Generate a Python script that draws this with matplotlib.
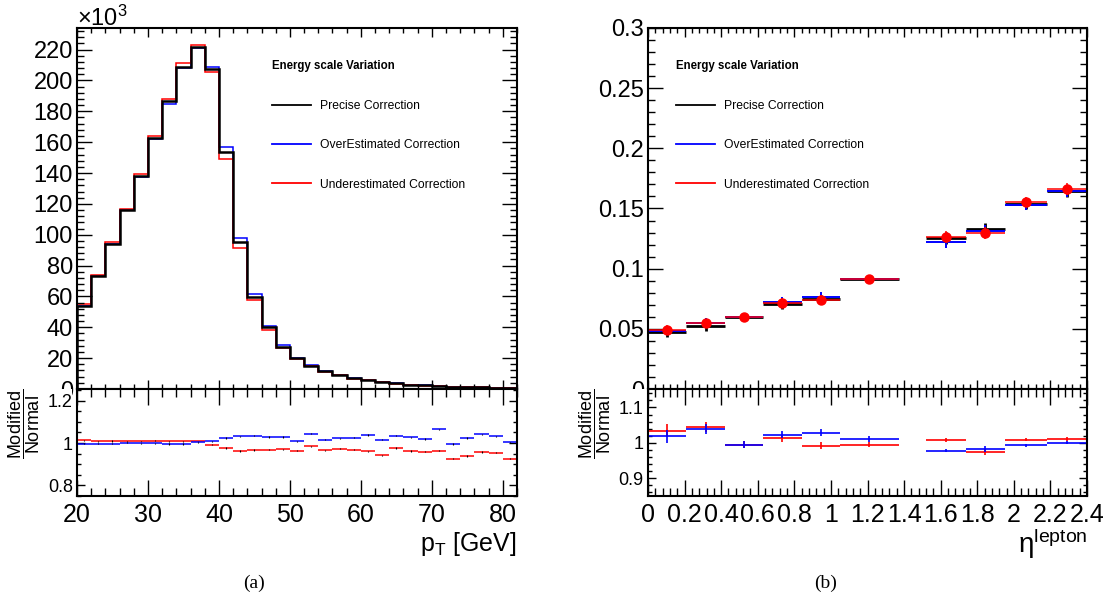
import numpy as np
import matplotlib
matplotlib.use("Agg")
import matplotlib.pyplot as plt
from matplotlib.lines import Line2D
from matplotlib.patches import Rectangle
from matplotlib.ticker import MultipleLocator, FormatStrFormatter

plt.rcParams["font.family"] = ["Liberation Sans", "DejaVu Sans"]
plt.rcParams["mathtext.fontset"] = "custom"
plt.rcParams["mathtext.rm"] = "Liberation Sans"
plt.rcParams["mathtext.it"] = "Liberation Sans:italic"
plt.rcParams["mathtext.bf"] = "Liberation Sans:bold"

# ---------------- (a) lepton pT, 2 GeV bins, counts in 10^3 ----------------
pt_edges = np.arange(20, 84, 2)
pt_precise = [54, 73, 94, 116, 138.2, 162.8, 186.4, 209, 221.5, 207.5, 153.4,
              95.3, 59.5, 39.9, 27.0, 20.0, 15.0, 11.7, 9.1, 7.0, 5.9, 4.6,
              3.6, 2.8, 2.3, 1.9, 1.6, 1.3, 1.1, 0.9, 0.8]
pt_over = [54, 73, 94, 116, 137.5, 162, 185, 208, 221, 208.5, 157,
           97.9, 61.4, 40.6, 28.8, 20.3, 15.6, 11.9, 9.3, 7.2, 6.1, 4.7,
           3.7, 2.9, 2.35, 2.0, 1.6, 1.35, 1.15, 0.95, 0.8]
pt_under = [55.1, 74, 95, 117, 139.5, 164, 188, 211, 223, 205.3, 149.3,
            91.4, 58, 38.2, 26.4, 19.3, 14.7, 11.3, 8.9, 6.8, 5.7, 4.3,
            3.5, 2.7, 2.2, 1.8, 1.45, 1.25, 1.05, 0.85, 0.74]
pt_ratio_over = [0.997, 0.997, 0.997, 1.002, 0.998, 0.998, 0.995, 0.995, 1.003,
                 1.008, 1.024, 1.031, 1.035, 1.028, 1.028, 1.008, 1.044, 1.016,
                 1.022, 1.025, 1.038, 1.016, 1.035, 1.027, 1.019, 1.064, 0.995,
                 1.024, 1.041, 1.031, 1.003]
pt_ratio_under = [1.013, 1.008, 1.009, 1.008, 1.008, 1.011, 1.008, 1.008, 1.008,
                  0.992, 0.977, 0.962, 0.967, 0.969, 0.970, 0.964, 0.984, 0.965,
                  0.973, 0.969, 0.961, 0.942, 0.977, 0.962, 0.959, 0.964, 0.926,
                  0.939, 0.958, 0.954, 0.926]

# ---------------- (b) lepton eta (crack 1.37-1.52 excluded) ----------------
eta_lo = [0.0, 0.21, 0.42, 0.63, 0.84, 1.05, 1.52, 1.74, 1.95, 2.18]
eta_hi = [0.21, 0.42, 0.63, 0.84, 1.05, 1.37, 1.74, 1.95, 2.18, 2.4]
eta_precise = [0.0472, 0.0522, 0.0597, 0.0708, 0.0744, 0.0915, 0.1253, 0.1333, 0.1539, 0.1647]
eta_over = [0.0486, 0.0548, 0.0597, 0.0722, 0.0765, 0.0918, 0.1225, 0.1314, 0.1525, 0.1647]
eta_under = [0.0488, 0.0545, 0.0597, 0.0717, 0.0739, 0.0913, 0.1263, 0.1300, 0.1553, 0.1665]
eta_err = [0.004, 0.004, 0.003, 0.004, 0.004, 0.003, 0.005, 0.005, 0.004, 0.005]
eta_ratio_over = [1.019, 1.039, 0.995, 1.023, 1.028, 1.011, 0.978, 0.983, 0.993, 1.001]
eta_ratio_under = [1.034, 1.044, 0.995, 1.013, 0.992, 0.995, 1.008, 0.975, 1.009, 1.011]
eta_ratio_err = [0.018, 0.014, 0.010, 0.010, 0.010, 0.008, 0.005, 0.008, 0.005, 0.005]

legend_title = "Energy scale Variation"
legend_labels = ["Precise Correction", "OverEstimated Correction", "Underestimated Correction"]
COLORS = ["black", "#0000ff", "#ff0000"]

W, H = 1110, 597
fig = plt.figure(figsize=(W / 100, H / 100), dpi=100)


def px_axes(x0, x1, y0, y1):
    return fig.add_axes([x0 / W, 1 - y1 / H, (x1 - x0) / W, (y1 - y0) / H])


def style(ax, xmaj, xmin, ymaj, ymin, xlen, ylen, ysize, xsize=18):
    ax.xaxis.set_major_locator(MultipleLocator(xmaj))
    ax.xaxis.set_minor_locator(MultipleLocator(xmin))
    ax.yaxis.set_major_locator(MultipleLocator(ymaj))
    ax.yaxis.set_minor_locator(MultipleLocator(ymin))
    ax.tick_params(axis="both", which="both", direction="in", top=True, right=True, width=1.0)
    ax.tick_params(axis="x", which="major", length=xlen, labelsize=xsize, pad=5)
    ax.tick_params(axis="x", which="minor", length=xlen * 0.5)
    ax.tick_params(axis="y", which="major", length=ylen, labelsize=ysize, pad=3)
    ax.tick_params(axis="y", which="minor", length=ylen * 0.5)
    for s in ax.spines.values():
        s.set_linewidth(1.5)


handles = [Line2D([], [], color=c, lw=1.3) for c in COLORS]


def add_legend(ax, x):
    leg = ax.legend(handles, legend_labels, title=legend_title, loc="upper left",
                    bbox_to_anchor=(x, 0.91), frameon=False, fontsize=8.7,
                    title_fontproperties={"weight": "bold", "size": 8.3},
                    alignment="left", handlelength=3.2, handletextpad=0.75,
                    labelspacing=2.25, borderpad=0, borderaxespad=0)
    leg._legend_box.sep = 20
    return leg


# ================= panel (a) =================
ax1 = px_axes(77, 517, 28, 389)
ax1r = px_axes(77, 517, 389, 496)
ax1r.set_zorder(2)

ax1.stairs(pt_over, pt_edges, color=COLORS[1], lw=1.1)
ax1.stairs(pt_under, pt_edges, color=COLORS[2], lw=1.1)
ax1.stairs(pt_precise, pt_edges, color=COLORS[0], lw=1.8)
ax1.set_xlim(20, 82)
ax1.set_ylim(0, 234)
style(ax1, 10, 2, 20, 4, 6.5, 10.5, 17)
ax1.tick_params(axis="x", labelbottom=False)
add_legend(ax1, 0.443)

pt_c = (pt_edges[:-1] + pt_edges[1:]) / 2
for vals, c in [(pt_ratio_under, COLORS[2]), (pt_ratio_over, COLORS[1])]:
    ax1r.errorbar(pt_c, vals, xerr=1.0, fmt="none", ecolor=c, elinewidth=1.1)
    ax1r.errorbar(pt_c, vals, yerr=0.003, fmt="none", ecolor="black", elinewidth=0.8)
ax1r.set_xlim(20, 82)
ax1r.set_ylim(0.75, 1.255)
style(ax1r, 10, 2, 0.2, 0.05, 11.5, 6, 13)
ax1r.yaxis.set_major_formatter(FormatStrFormatter("%g"))
ax1r.set_xlabel(r"p$_{\mathrm{T}}$ [GeV]", fontsize=18, loc="right", labelpad=2)
ax1r.set_ylabel(r"$\dfrac{\mathrm{Modified}}{\mathrm{Normal}}$", fontsize=13, loc="top", labelpad=4)

# ================= panel (b) =================
ax2 = px_axes(648, 1087, 28, 389)
ax2r = px_axes(648, 1087, 389, 496)
ax2r.set_zorder(2)

eta_c = [(a + b) / 2 for a, b in zip(eta_lo, eta_hi)]
eta_hw = [(b - a) / 2 for a, b in zip(eta_lo, eta_hi)]
ax2.errorbar(eta_c, eta_precise, xerr=eta_hw, yerr=eta_err, fmt="none", ecolor=COLORS[0], elinewidth=2.0)
ax2.errorbar(eta_c, eta_over, xerr=eta_hw, yerr=eta_err, fmt="none", ecolor=COLORS[1], elinewidth=1.4)
ax2.errorbar(eta_c, eta_under, xerr=eta_hw, yerr=eta_err, fmt="o", color=COLORS[2],
             ecolor=COLORS[2], elinewidth=1.1, markersize=6.5)
ax2.set_xlim(0, 2.4)
ax2.set_ylim(0, 0.3)
style(ax2, 0.2, 0.04, 0.05, 0.01, 6.5, 10.5, 17)
ax2.yaxis.set_major_formatter(FormatStrFormatter("%g"))
ax2.tick_params(axis="x", labelbottom=False)
add_legend(ax2, 0.064)

for vals, c in [(eta_ratio_under, COLORS[2]), (eta_ratio_over, COLORS[1])]:
    ax2r.errorbar(eta_c, vals, xerr=eta_hw, yerr=eta_ratio_err, fmt="none", ecolor=c, elinewidth=1.2)
ax2r.set_xlim(0, 2.4)
ax2r.set_ylim(0.85, 1.152)
style(ax2r, 0.2, 0.04, 0.1, 0.02, 11.5, 6, 13)
ax2r.xaxis.set_major_formatter(FormatStrFormatter("%g"))
ax2r.yaxis.set_major_formatter(FormatStrFormatter("%g"))
ax2r.set_xlabel("η$^{\\mathrm{lepton}}$", fontsize=20, loc="right", labelpad=0)
ax2r.set_ylabel(r"$\dfrac{\mathrm{Modified}}{\mathrm{Normal}}$", fontsize=13, loc="top", labelpad=4)

# hide the lower half of the main-panel "0" labels, as the ratio pad does in ROOT
for x0 in (0, 575):
    fig.patches.append(Rectangle((x0 / W, 1 - 403 / H), 72 / W, 14 / H, transform=fig.transFigure,
                                 facecolor="white", edgecolor="none", zorder=1))

fig.text(77 / W, 1 - 26 / H, r"$\times$10$^{3}$", fontsize=17, ha="left", va="baseline")
fig.text(254 / W, 1 - 583 / H, "(a)", fontsize=14, ha="center", va="center", family="Liberation Serif")
fig.text(826 / W, 1 - 583 / H, "(b)", fontsize=14, ha="center", va="center", family="Liberation Serif")

fig.savefig("out.png", dpi=100)
